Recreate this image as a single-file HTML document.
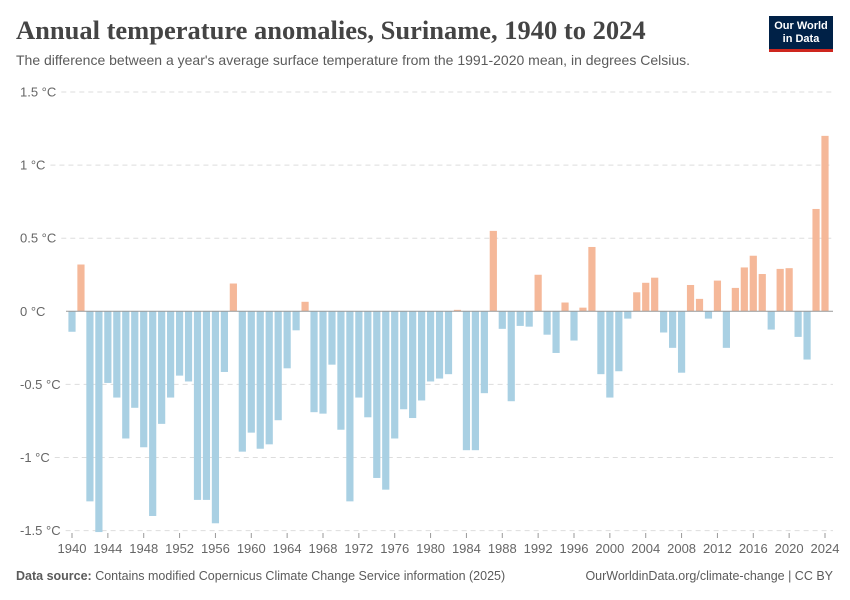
<!DOCTYPE html>
<html><head><meta charset="utf-8"><style>
body{margin:0;background:#fff;font-family:"Liberation Sans",sans-serif;}
#wrap{position:relative;width:850px;height:600px;overflow:hidden;}
.t{position:absolute;white-space:nowrap;}
</style></head><body>
<div id="wrap">
<div class="t" style="left:16px;top:15px;font-family:'Liberation Serif',serif;font-size:26.5px;color:#444;font-weight:600;">Annual temperature anomalies, Suriname, 1940 to 2024</div>
<div class="t" style="left:16px;top:52px;font-size:14px;color:#5b5b5b;">The difference between a year's average surface temperature from the 1991-2020 mean, in degrees Celsius.</div>
<div style="position:absolute;left:769px;top:16px;width:64px;height:36px;background:#002147;border-bottom:3px solid #ce261e;box-sizing:border-box;color:#fff;font-size:11px;font-weight:bold;text-align:center;line-height:13px;padding-top:4px;">Our World<br>in Data</div>
<svg id="chart" width="850" height="600" style="position:absolute;left:0;top:0;"></svg>
<div class="t" style="left:16px;top:569px;font-size:12.5px;color:#5b5b5b;"><b>Data source:</b> Contains modified Copernicus Climate Change Service information (2025)</div>
<div class="t" style="right:17px;top:569px;font-size:12.5px;color:#5b5b5b;">OurWorldinData.org/climate-change | CC BY</div>
</div>
<script>
const years=[];for(let y=1940;y<=2024;y++)years.push(y);
const anomalies=[-0.14,0.32,-1.30,-1.51,-0.49,-0.59,-0.87,-0.66,-0.93,-1.40,-0.77,-0.59,-0.44,-0.48,-1.29,-1.29,-1.45,-0.415,0.19,-0.96,-0.83,-0.94,-0.91,-0.745,-0.39,-0.13,0.065,-0.69,-0.70,-0.365,-0.81,-1.30,-0.59,-0.725,-1.14,-1.22,-0.87,-0.67,-0.73,-0.61,-0.48,-0.46,-0.43,0.01,-0.95,-0.95,-0.56,0.55,-0.12,-0.615,-0.10,-0.105,0.25,-0.16,-0.285,0.06,-0.20,0.025,0.44,-0.43,-0.59,-0.41,-0.05,0.13,0.195,0.23,-0.145,-0.25,-0.42,0.18,0.085,-0.05,0.21,-0.25,0.16,0.30,0.38,0.255,-0.125,0.29,0.295,-0.175,-0.33,0.70,1.20];
const yTicks=[1.5,1,0.5,0,-0.5,-1,-1.5];
const yTickLabels=["1.5 °C","1 °C","0.5 °C","0 °C","-0.5 °C","-1 °C","-1.5 °C"];
const xTickYears=[1940,1944,1948,1952,1956,1960,1964,1968,1972,1976,1980,1984,1988,1992,1996,2000,2004,2008,2012,2016,2020,2024];
const svg=document.getElementById('chart'),NS='http://www.w3.org/2000/svg';
const y0=311.3,pxPer=146.2;
const yS=v=>y0-v*pxPer;
const xS=yr=>72+(yr-1940)*(825-72)/84;
function mk(tag,attrs){const e=document.createElementNS(NS,tag);for(const k in attrs)e.setAttribute(k,attrs[k]);svg.appendChild(e);return e;}
yTicks.forEach((v,i)=>{
  const t=mk('text',{x:20,y:yS(v)+4.5,'font-size':13,fill:'#666','font-family':'Liberation Sans'});t.textContent=yTickLabels[i];
  
  
  if(v!==0){const w=t.getComputedTextLength?t.getComputedTextLength():40;
  const g=mk('line',{x1:20+w+5,x2:833,y1:yS(v),y2:yS(v),stroke:'#ddd','stroke-dasharray':'5,4'});
  
  }
});
years.forEach((yr,i)=>{
  const v=anomalies[i];const top=Math.min(yS(v),y0),h=Math.abs(yS(v)-y0);
  const r=mk('rect',{x:xS(yr)-3.6,y:top,width:7.2,height:Math.max(h,0.8),fill:v>=0?'#f5b899':'#a9d0e3'});
  
  
});
const zl=mk('line',{x1:66,x2:833,y1:y0,y2:y0,stroke:'#999','stroke-width':1});


xTickYears.forEach(yr=>{
  const tk=mk('line',{x1:xS(yr),x2:xS(yr),y1:533,y2:538,stroke:'#999'});
  
  
  const t=mk('text',{x:xS(yr),y:553,'font-size':13,fill:'#666','text-anchor':'middle','font-family':'Liberation Sans'});t.textContent=yr;
  
  
});
</script>
</body></html>
